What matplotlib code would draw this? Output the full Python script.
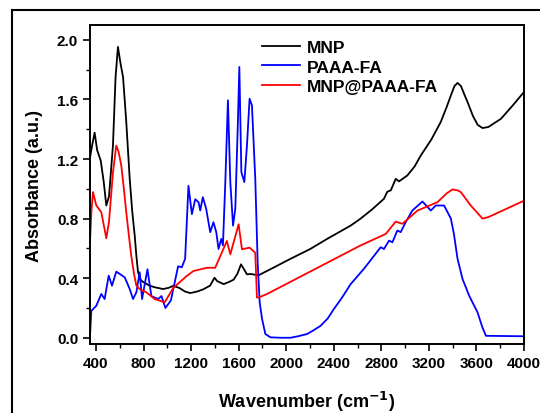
import matplotlib
matplotlib.use("Agg")
import matplotlib.pyplot as plt
from matplotlib.lines import Line2D
from matplotlib.ticker import MultipleLocator

# ---- data ----
mnp_wn = [350, 370, 389, 410, 440, 465, 487, 510, 543, 565, 585, 605, 628, 655, 684, 705, 726,
          740, 754, 775, 796, 850, 894, 965, 1010, 1049, 1100, 1150, 1193, 1250, 1302, 1360,
          1397, 1420, 1474, 1520, 1558, 1590, 1620, 1645, 1670, 1698, 1769, 1867, 2036, 2200,
          2345, 2542, 2626, 2720, 2822, 2850, 2880, 2921, 2949, 3019, 3080, 3132, 3220, 3300,
          3350, 3385, 3415, 3441, 3470, 3500, 3525, 3570, 3610, 3651, 3700, 3806, 3900, 4000]
mnp_ab = [1.21, 1.30, 1.377, 1.26, 1.19, 1.05, 0.888, 0.95, 1.29, 1.75, 1.953, 1.85, 1.75, 1.45,
          1.067, 0.85, 0.686, 0.55, 0.44, 0.39, 0.375, 0.35, 0.339, 0.327, 0.335, 0.348, 0.335,
          0.31, 0.30, 0.31, 0.325, 0.35, 0.403, 0.38, 0.36, 0.375, 0.39, 0.43, 0.493, 0.46, 0.426,
          0.428, 0.42, 0.46, 0.53, 0.595, 0.664, 0.753, 0.80, 0.86, 0.933, 0.98, 0.99, 1.067,
          1.05, 1.09, 1.15, 1.224, 1.33, 1.449, 1.55, 1.627, 1.69, 1.711, 1.69, 1.63, 1.583, 1.49,
          1.43, 1.408, 1.415, 1.47, 1.555, 1.65]

paaa_wn = [350, 361, 403, 445, 473, 507, 535, 571, 642, 684, 712, 740, 768, 788, 833, 866, 923,
           951, 984, 1030, 1091, 1122, 1150, 1178, 1207, 1235, 1263, 1277, 1299, 1327, 1361,
           1388, 1412, 1431, 1454, 1468, 1488, 1510, 1530, 1553, 1572, 1592, 1606, 1623, 1648,
           1670, 1692, 1712, 1740, 1760, 1777, 1797, 1825, 1867, 1950, 2036, 2100, 2176, 2230,
           2289, 2350, 2401, 2470, 2542, 2653, 2795, 2822, 2865, 2893, 2935, 2963, 3005, 3061,
           3146, 3216, 3258, 3328, 3385, 3410, 3441, 3483, 3540, 3609, 3650, 3680, 4000]
paaa_ab = [0.013, 0.18, 0.215, 0.294, 0.26, 0.417, 0.35, 0.444, 0.406, 0.327, 0.26, 0.305, 0.44,
           0.26, 0.46, 0.28, 0.26, 0.28, 0.20, 0.25, 0.48, 0.473, 0.53, 1.02, 0.83, 0.93, 0.91,
           0.855, 0.944, 0.866, 0.709, 0.776, 0.709, 0.596, 0.664, 0.62, 1.045, 1.594, 1.045,
           0.753, 0.866, 1.40, 1.818, 1.112, 1.045, 1.29, 1.605, 1.56, 1.067, 0.507, 0.238,
           0.126, 0.025, 0.003, 0.0, 0.0, 0.01, 0.025, 0.05, 0.08, 0.13, 0.193, 0.27, 0.36,
           0.462, 0.608, 0.596, 0.652, 0.641, 0.72, 0.709, 0.776, 0.854, 0.915, 0.854, 0.888,
           0.888, 0.80, 0.70, 0.53, 0.395, 0.28, 0.171, 0.07, 0.013, 0.01]

comp_wn = [350, 362, 375, 390, 403, 420, 445, 465, 487, 510, 543, 571, 590, 613, 635, 655, 675,
           697, 720, 740, 768, 824, 894, 978, 1052, 1164, 1220, 1333, 1403, 1501, 1530, 1600,
           1628, 1692, 1740, 1754, 1768, 1839, 2626, 2837, 2921, 2977, 3104, 3272, 3350, 3399,
           3440, 3469, 3550, 3651, 3700, 4000]
comp_ab = [0.64, 0.85, 0.978, 0.93, 0.888, 0.87, 0.843, 0.76, 0.668, 0.78, 1.11, 1.29, 1.25,
           1.157, 1.0, 0.843, 0.70, 0.55, 0.43, 0.35, 0.327, 0.305, 0.26, 0.238, 0.336, 0.415,
           0.448, 0.47, 0.47, 0.65, 0.56, 0.762, 0.594, 0.605, 0.57, 0.27, 0.27, 0.294, 0.62,
           0.697, 0.78, 0.765, 0.854, 0.91, 0.97, 0.996, 0.99, 0.978, 0.89, 0.80, 0.81, 0.92]

series_labels = ["MNP", "PAAA-FA", "MNP@PAAA-FA"]
series_colors = ["#000000", "#0000ff", "#ff0000"]
x_ticks = [400, 800, 1200, 1600, 2000, 2400, 2800, 3200, 3600, 4000]
y_ticks = [0.0, 0.4, 0.8, 1.2, 1.6, 2.0]

plt.rcParams['font.family'] = ['Liberation Sans', 'DejaVu Sans']
plt.rcParams['font.weight'] = 'bold'

fig = plt.figure(figsize=(5.4, 4.14), dpi=100)
ax = fig.add_axes([90/540, 1-345/414, (524-90)/540, (345-26)/414])

for wn, ab, lab, col in zip([mnp_wn, paaa_wn, comp_wn], [mnp_ab, paaa_ab, comp_ab],
                            series_labels, series_colors):
    ax.plot(wn, ab, color=col, lw=1.3, label=lab)

ax.set_xlim(350, 4000)
ax.set_ylim(-0.042, 2.1)
ax.set_xticks(x_ticks)
ax.set_yticks(y_ticks)
ax.set_yticklabels([f"{v:.1f}" for v in y_ticks])
ax.xaxis.set_minor_locator(MultipleLocator(200))
ax.yaxis.set_minor_locator(MultipleLocator(0.2))
ax.tick_params(which='major', direction='out', length=5, width=1.2, labelsize=11)
ax.tick_params(which='minor', direction='out', length=3, width=1.0)
for s in ax.spines.values():
    s.set_linewidth(1.4)
for lbl in ax.get_xticklabels() + ax.get_yticklabels():
    lbl.set_fontweight('bold')

ax.set_xlabel("Wavenumber (cm$^{\\mathbf{-1}}$)", fontsize=13, fontweight='bold', labelpad=14)
ax.set_ylabel("Absorbance (a.u.)", fontsize=13, fontweight='bold', labelpad=10)

leg = ax.legend(loc='upper left', bbox_to_anchor=(0.38, 0.975), frameon=False,
                prop={'weight': 'bold', 'size': 12.5}, handlelength=2.2,
                handletextpad=0.4, labelspacing=0.25, borderaxespad=0)

# outer frame (left and top edges visible)
fig.add_artist(Line2D([12/540, 12/540], [0, 1-11/414], transform=fig.transFigure,
                      color='black', lw=1.5))
fig.add_artist(Line2D([12/540, 1], [1-11/414, 1-11/414], transform=fig.transFigure,
                      color='black', lw=1.5))

fig.savefig("out.png", dpi=100)
